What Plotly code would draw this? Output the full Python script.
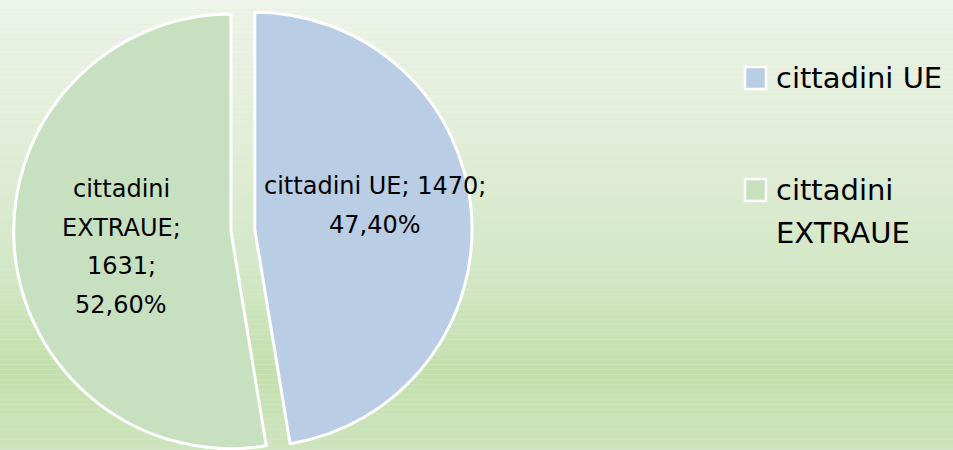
import plotly.graph_objects as go

# ---- data ----
categories = ["cittadini UE", "cittadini EXTRAUE"]
values = [1470, 1631]

# ---- style ----
W, H = 953, 450          # visible window
FH = 470                 # figure height (bottom part clipped like the reference)
slice_colors = ["#b9cde5", "#c7e1c0"]
font_family = "DejaVu Sans"
grad_stops = [(0.0, (238, 244, 233)), (0.3, (226, 238, 217)), (0.6, (211, 231, 198)),
              (0.82, (196, 223, 173)), (1.0, (205, 228, 188))]

def px(x):
    return x / W

def py(y):
    return 1 - y / FH

def grad_color(t):
    t = min(max(t, 0), 1)
    for (t0, c0), (t1, c1) in zip(grad_stops[:-1], grad_stops[1:]):
        if t0 <= t <= t1:
            f = (t - t0) / (t1 - t0) if t1 > t0 else 0
            c = [round(a + (b - a) * f) for a, b in zip(c0, c1)]
            return "rgb(%d,%d,%d)" % tuple(c)
    return "rgb(%d,%d,%d)" % grad_stops[-1][1]

total = sum(values)
pcts = [v / total * 100 for v in values]
pct_txt = [("%.2f%%" % p).replace(".", ",") for p in pcts]

fig = go.Figure()
fig.add_trace(go.Pie(
    labels=categories, values=values, sort=False, direction="clockwise", rotation=0,
    marker=dict(colors=slice_colors, line=dict(color="white", width=3)),
    pull=[0.05, 0.06], textinfo="none", hoverinfo="label+value+percent",
    domain=dict(x=[0, 0.512], y=[0.02, 1]), showlegend=False,
))

shapes = []
N = 94
for i in range(N):
    ytop = i * FH / N
    t = (ytop + FH / N / 2) / H
    shapes.append(dict(type="rect", xref="paper", yref="paper", x0=0, x1=1,
                       y0=1 - i / N, y1=1 - (i + 1) / N + 0.0005,
                       fillcolor=grad_color(t), line=dict(width=0), layer="below"))

annotations = []
# data labels (line layout per slice)
label_lines = [
    [f"{categories[0]}; {values[0]};", pct_txt[0]],
    categories[1].split(" ")[:1] + [categories[1].split(" ")[1] + ";", f"{values[1]};", pct_txt[1]],
]
label_pos = [(375, 186), (121, 189)]
line_gap = 38.5
for lines, (cx, cy) in zip(label_lines, label_pos):
    for k, ln in enumerate(lines):
        annotations.append(dict(text=ln, x=px(cx), y=py(cy + k * line_gap), xref="paper", yref="paper",
                                xanchor="center", yanchor="middle", showarrow=False,
                                font=dict(family=font_family, size=24, color="black")))

# legend
legend_lines = [[categories[0]], categories[1].split(" ")]
legend_y = [78, 190]
for col, lines, ly in zip(slice_colors, legend_lines, legend_y):
    shapes.append(dict(type="rect", xref="paper", yref="paper", x0=px(745), x1=px(766),
                       y0=py(ly - 11), y1=py(ly + 11), fillcolor=col,
                       line=dict(color="white", width=2.5)))
    for k, ln in enumerate(lines):
        annotations.append(dict(text=ln, x=px(774), y=py(ly + k * 43), xref="paper", yref="paper",
                                xanchor="left", yanchor="middle", showarrow=False,
                                font=dict(family=font_family, size=29, color="black")))

fig.update_layout(width=W, height=FH, margin=dict(l=0, r=0, t=0, b=0),
                  paper_bgcolor="#dcebd2", plot_bgcolor="rgba(0,0,0,0)",
                  shapes=shapes, annotations=annotations)
fig.write_html("out.html", config={"displayModeBar": False},
               post_script="document.body.style.margin='0';document.body.style.overflow='hidden';")
